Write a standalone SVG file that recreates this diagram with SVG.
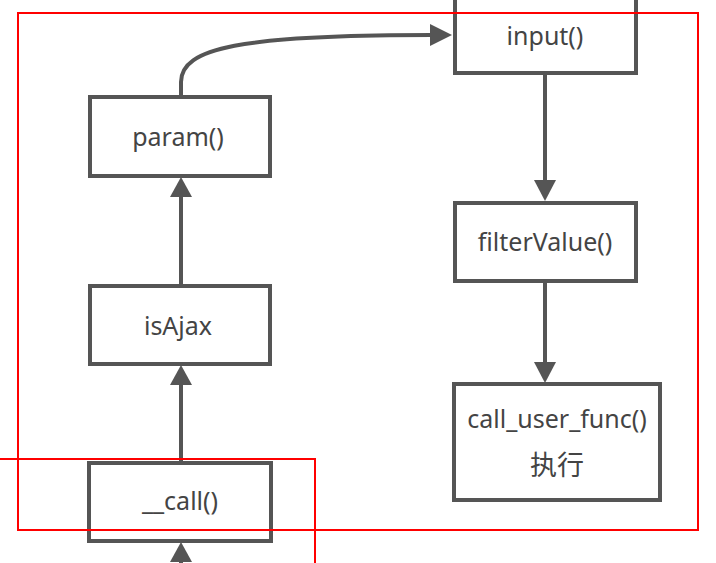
<svg xmlns="http://www.w3.org/2000/svg" width="716" height="563" viewBox="0 0 716 563">
<style>
.box{fill:#fff;stroke:#555;stroke-width:4}
.lbl{font-family:"Noto Sans","Noto Sans CJK SC",sans-serif;font-size:25px;fill:#444;text-anchor:middle}
.cjk{font-family:"Noto Sans CJK SC",sans-serif;font-size:27px}
.con{fill:none;stroke:#555;stroke-width:4}
.head{fill:#555}
.red{fill:none;stroke:#f00;stroke-width:2}
</style>
<rect width="716" height="563" fill="#fff"/>
<g id="connectors">
<path class="con" d="M181,96 L181,82 C181,48 240,35 432,35"/>
<polygon class="head" points="452,35 430,24 430,46"/>
<path class="con" d="M545,74 L545,182"/>
<polygon class="head" points="545,201 534,180 556,180"/>
<path class="con" d="M545,281 L545,364"/>
<polygon class="head" points="545,383 534,362 556,362"/>
<path class="con" d="M181,286 L181,195"/>
<polygon class="head" points="181,177 170,197 192,197"/>
<path class="con" d="M181,462 L181,384"/>
<polygon class="head" points="181,365 170,385 192,385"/>
<path class="con" d="M181,563 L181,560"/>
<polygon class="head" points="181,542 170,562 192,562"/>
</g>
<g id="input">
<rect class="box" x="455" y="-10" width="181" height="83"/>
<text class="lbl" x="545" y="45">input()</text>
</g>
<g id="param">
<rect class="box" x="90" y="97" width="180" height="79"/>
<text class="lbl" x="178" y="146">param()</text>
</g>
<g id="isAjax">
<rect class="box" x="90" y="286" width="180" height="78"/>
<text class="lbl" x="178" y="335">isAjax</text>
</g>
<g id="call">
<rect class="box" x="89" y="463" width="182" height="78"/>
<text class="lbl" x="180" y="510">__call()</text>
</g>
<g id="filterValue">
<rect class="box" x="455" y="203" width="181" height="78"/>
<text class="lbl" x="545" y="251">filterValue()</text>
</g>
<g id="call_user_func">
<rect class="box" x="454" y="384" width="206" height="116"/>
<text class="lbl" x="557" y="428">call_user_func()</text>
<text class="lbl cjk" x="557" y="475">执行</text>
</g>
<rect class="red" x="18" y="13" width="680" height="517"/>
<path class="red" d="M0,459 L315,459 L315,565"/>
</svg>
